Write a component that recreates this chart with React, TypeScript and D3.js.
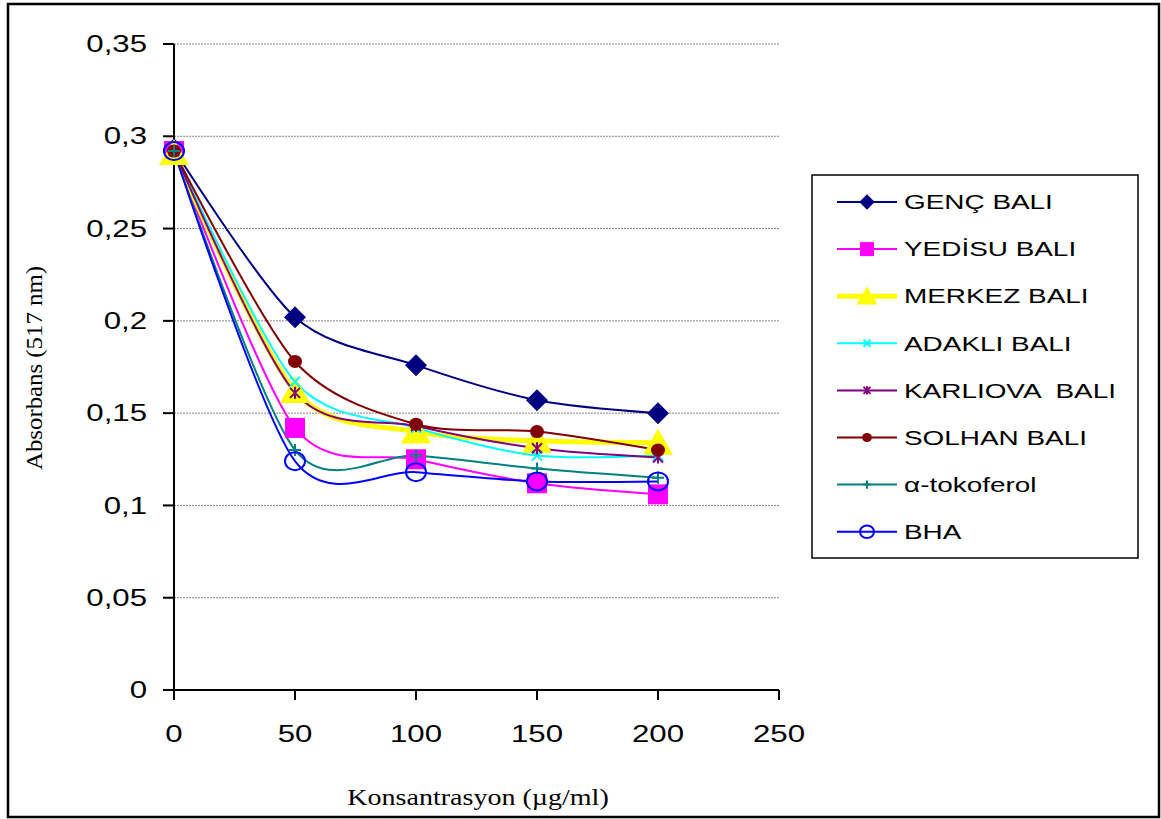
import React from "react";
import * as d3 from "d3";

// concentrations (µg/ml)
const conc = [0, 50, 100, 150, 200];

const genc = [0.293, 0.202, 0.176, 0.157, 0.150];
const yedisu = [0.292, 0.142, 0.125, 0.112, 0.106];
const merkez = [0.291, 0.162, 0.140, 0.135, 0.134];
const adakli = [0.292, 0.167, 0.142, 0.127, 0.127];
const karliova = [0.292, 0.161, 0.143, 0.131, 0.126];
const solhan = [0.292, 0.178, 0.144, 0.140, 0.130];
const tokoferol = [0.292, 0.130, 0.127, 0.120, 0.115];
const bha = [0.292, 0.124, 0.118, 0.113, 0.113];

const yTicks = [0, 0.05, 0.1, 0.15, 0.2, 0.25, 0.3, 0.35];
const xTicks = [0, 50, 100, 150, 200, 250];

const seriesNames = ["GENÇ BALI", "YEDİSU BALI", "MERKEZ BALI", "ADAKLI BALI", "KARLIOVA  BALI", "SOLHAN BALI", "α-tokoferol", "BHA"];
const seriesValues = [genc, yedisu, merkez, adakli, karliova, solhan, tokoferol, bha];
const seriesColors = ["#000080", "#FF00FF", "#FFFF00", "#00FFFF", "#800080", "#800000", "#008080", "#0000FF"];
const seriesMarkers = ["diamond", "square", "triangle", "x", "star", "dot", "plus", "ring"];
const seriesWidths = [2, 2, 5, 2, 2, 2, 2, 2];

const fmt = (v: number) => String(v).replace(".", ",");

function Marker({ kind, x, y, color, s }: { kind: string; x: number; y: number; color: string; s: number }) {
    switch (kind) {
        case "diamond":
            return <path d={`M${x},${y - 11 * s}L${x + 11 * s},${y}L${x},${y + 11 * s}L${x - 11 * s},${y}Z`} fill={color} />;
        case "square":
            return <rect x={x - 10 * s} y={y - 10 * s} width={20 * s} height={20 * s} fill={color} />;
        case "triangle":
            return <path d={`M${x},${y - 14 * s}L${x + 15 * s},${y + 12 * s}L${x - 15 * s},${y + 12 * s}Z`} fill={color} />;
        case "x":
            return <path d={`M${x - 5 * s},${y - 5 * s}L${x + 5 * s},${y + 5 * s}M${x + 5 * s},${y - 5 * s}L${x - 5 * s},${y + 5 * s}`} stroke={color} strokeWidth={2} />;
        case "star":
            return <path d={`M${x - 5 * s},${y - 5 * s}L${x + 5 * s},${y + 5 * s}M${x + 5 * s},${y - 5 * s}L${x - 5 * s},${y + 5 * s}M${x},${y - 6 * s}L${x},${y + 6 * s}`} stroke={color} strokeWidth={2} />;
        case "dot":
            return <ellipse cx={x} cy={y} rx={7 * s} ry={6.5 * s} fill={color} />;
        case "plus":
            return <path d={`M${x - 6 * s},${y}L${x + 6 * s},${y}M${x},${y - 6 * s}L${x},${y + 6 * s}`} stroke={color} strokeWidth={2} />;
        case "ring":
            return <ellipse cx={x} cy={y} rx={10 * s} ry={9 * s} fill="none" stroke={color} strokeWidth={2} />;
        default:
            return null;
    }
}

export default function App() {
    const x = d3.scaleLinear().domain([0, 250]).range([174, 779]);
    const y = d3.scaleLinear().domain([0, 0.35]).range([690, 44]);
    // excel-style smoothed line, slightly tighter than plain catmull-rom
    const line = d3.line<number>()
        .x((_, i) => x(conc[i]))
        .y(d => y(d))
        .curve(d3.curveCardinal.tension(0.15));

    const sans = "Arial, 'Liberation Sans', sans-serif";
    const serif = "'Times New Roman', 'Liberation Serif', serif";
    const stretch = 1.3;

    return (
        <svg width={1161} height={819} style={{ position: "absolute", left: 0, top: 0, background: "#fff" }}>
            <rect x={8} y={4} width={1151} height={813} fill="#fff" stroke="#000" strokeWidth={2.5} />

            {yTicks.filter(t => t > 0).map(t => (
                <line key={"g" + t} x1={x(0)} x2={x(250)} y1={y(t)} y2={y(t)} stroke="#888" strokeWidth={1} strokeDasharray="2,1" />
            ))}

            <line x1={x(0)} x2={x(0)} y1={y(0.35)} y2={y(0)} stroke="#000" strokeWidth={2} />
            <line x1={x(0)} x2={x(250)} y1={y(0)} y2={y(0)} stroke="#000" strokeWidth={2} />
            {yTicks.map(t => (
                <g key={"yt" + t}>
                    <line x1={163} x2={x(0)} y1={y(t)} y2={y(t)} stroke="#000" strokeWidth={2} />
                    <text transform={`translate(147,${y(t)}) scale(${stretch},1)`} textAnchor="end" dominantBaseline="central" fontFamily={sans} fontSize={24}>{fmt(t)}</text>
                </g>
            ))}
            {xTicks.map(t => (
                <g key={"xt" + t}>
                    <line x1={x(t)} x2={x(t)} y1={y(0)} y2={700} stroke="#000" strokeWidth={2} />
                    <text transform={`translate(${x(t)},742) scale(${stretch},1)`} textAnchor="middle" fontFamily={sans} fontSize={24}>{t}</text>
                </g>
            ))}

            {seriesValues.map((vals, i) => (
                <path key={"l" + i} d={line(vals) || ""} fill="none" stroke={seriesColors[i]} strokeWidth={seriesWidths[i]} />
            ))}
            {seriesValues.map((vals, i) => (
                <g key={"m" + i}>
                    {vals.map((v, j) => (
                        <Marker key={j} kind={seriesMarkers[i]} x={x(conc[j])} y={y(v)} color={seriesColors[i]} s={1} />
                    ))}
                </g>
            ))}

            <text transform="translate(42,368) rotate(-90) scale(1.08,1)" textAnchor="middle" fontFamily={serif} fontSize={23}>Absorbans (517 nm)</text>
            <text transform="translate(478,805) scale(1.22,1)" textAnchor="middle" fontFamily={serif} fontSize={23}>Konsantrasyon (µg/ml)</text>

            <rect x={812} y={175} width={326} height={383} fill="#fff" stroke="#000" strokeWidth={1.5} />
            {seriesNames.map((name, i) => {
                const ry = 202 + i * 47.1;
                return (
                    <g key={"lg" + i}>
                        <line x1={837} x2={897} y1={ry} y2={ry} stroke={seriesColors[i]} strokeWidth={seriesWidths[i]} />
                        <Marker kind={seriesMarkers[i]} x={867} y={ry} color={seriesColors[i]} s={0.7} />
                        <text transform={`translate(904,${ry}) scale(1.33,1)`} dominantBaseline="central" fontFamily={sans} fontSize={21} style={{ whiteSpace: "pre" }}>{name}</text>
                    </g>
                );
            })}
        </svg>
    );
}
